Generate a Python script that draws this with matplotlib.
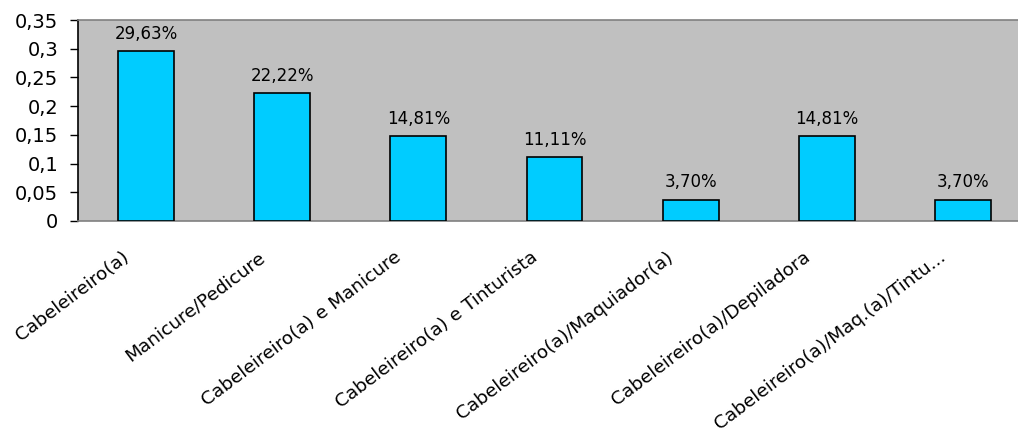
import matplotlib
matplotlib.use("Agg")
import matplotlib.pyplot as plt
from matplotlib.ticker import FuncFormatter
from matplotlib.transforms import ScaledTranslation

categories = [
    "Cabeleireiro(a)",
    "Manicure/Pedicure",
    "Cabeleireiro(a) e Manicure",
    "Cabeleireiro(a) e Tinturista",
    "Cabeleireiro(a)/Maquiador(a)",
    "Cabeleireiro(a)/Depiladora",
    "Cabeleireiro(a)/Maq.(a)/Tintu...",
]
values = [0.2963, 0.2222, 0.1481, 0.1111, 0.0370, 0.1481, 0.0370]
yticks = [0, 0.05, 0.1, 0.15, 0.2, 0.25, 0.3, 0.35]

plt.rcParams["font.family"] = ["DejaVu Sans"]

fig = plt.figure(figsize=(10.18, 4.34), dpi=100)
# axes extend slightly past the right edge of the figure
ax = fig.add_axes([78 / 1018, 1 - 221 / 434, (1031 - 78) / 1018, (221 - 20) / 434])
ax.set_facecolor("#C0C0C0")

x = range(len(categories))
ax.bar(x, values, width=0.41, color="#00CCFF", edgecolor="black", linewidth=1.2, zorder=3)
for xi, v in zip(x, values):
    ax.annotate(f"{v * 100:.2f}%".replace(".", ","), (xi, v), xytext=(0, 6),
                textcoords="offset points", ha="center", va="bottom", fontsize=12,
                color="black")

ax.set_xlim(-0.5, len(categories) - 0.5)
ax.set_ylim(0, 0.35)
ax.set_yticks(yticks)
ax.yaxis.set_major_formatter(FuncFormatter(lambda v, p: f"{v:g}".replace(".", ",")))
ax.tick_params(axis="y", labelsize=14, length=5.8, width=1, direction="out", pad=8.5)
ax.set_xticks(list(x))
ax.set_xticklabels(categories, rotation=37, ha="right", va="center",
                   rotation_mode="anchor", fontsize=13.3)
ax.tick_params(axis="x", length=0, pad=24.5)
shift = ScaledTranslation(-19 / 100, 0, fig.dpi_scale_trans)
for lbl in ax.get_xticklabels():
    lbl.set_transform(lbl.get_transform() + shift)

ax.spines["left"].set_color("black")
ax.spines["left"].set_linewidth(1.2)
for s in ("top", "bottom", "right"):
    ax.spines[s].set_color("#808080")
    ax.spines[s].set_linewidth(1.2)

fig.savefig("out.png", dpi=100)
